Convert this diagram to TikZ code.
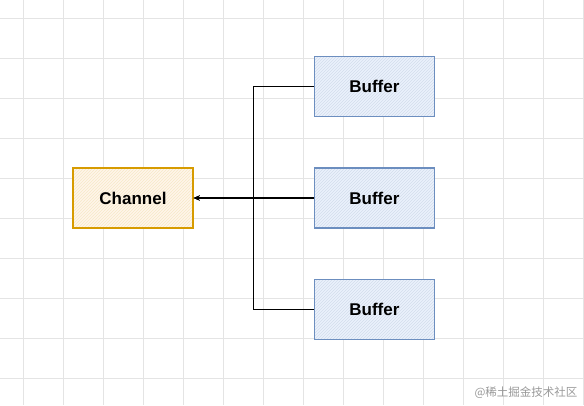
\documentclass[tikz,border=0pt]{standalone}
\usepackage{fontspec}
\setsansfont{Liberation Sans}
\newfontfamily\cjkfont{Noto Sans CJK SC}
\usetikzlibrary{arrows.meta,positioning,calc,patterns,backgrounds}

\definecolor{chanline}{HTML}{D79B00}
\definecolor{chanfill}{HTML}{FFF5EA}
\definecolor{bufline}{HTML}{6C8EBF}
\definecolor{buffill}{HTML}{EAF1FC}
\definecolor{gridgray}{HTML}{E4E4E4}

\begin{document}
\begin{tikzpicture}[
  x=1pt, y=-1pt,
  font=\sffamily\bfseries\fontsize{17}{20}\selectfont,
  >={Stealth[length=6pt, width=5pt]},
  node distance=50pt and 120pt,
  box/.style={draw, line width=1.4pt, minimum width=120pt, minimum height=60pt, inner sep=0pt},
  chanbox/.style={box, draw=chanline, preaction={fill=chanfill}, pattern=north east lines, pattern color=chanline!22},
  bufbox/.style={box, draw=bufline, preaction={fill=buffill}, pattern=north east lines, pattern color=bufline!30},
  flow/.style={->, line width=1.2pt, black},
]
\useasboundingbox (0,0) rectangle (584,405);

% ---- grid background ---------------------------------------------------------
\begin{scope}[on background layer]
  \fill[white] (0,0) rectangle (584,405);
  \foreach \gx in {23,63,...,583} \draw[gridgray, line width=0.7pt] (\gx,0) -- (\gx,405);
  \foreach \gy in {18,58,...,404} \draw[gridgray, line width=0.7pt] (0,\gy) -- (584,\gy);
\end{scope}

% ---- channel and buffers --------------------------------------------------------
\node[chanbox] (chan) at (133,198) {Channel};
\node[bufbox, right=of chan]  (buf2) {Buffer};
\node[bufbox, above=of buf2] (buf1) {Buffer};
\node[bufbox, below=of buf2] (buf3) {Buffer};

% ---- connectors -------------------------------------------------------------------
\coordinate (joint) at ($(chan.east)!0.5!(buf2.west)$);
\draw[flow] (buf1.west) -| (joint) -- (chan.east);
\draw[flow] (buf2.west) -- (chan.east);
\draw[flow] (buf3.west) -| (joint) -- (chan.east);

% ---- watermark ---------------------------------------------------------------------
\node[font=\cjkfont\fontsize{11.5}{13}\selectfont, text=black!40, anchor=east] (mark) at (581,393) {@稀土掘金技术社区};
\end{tikzpicture}
\end{document}
